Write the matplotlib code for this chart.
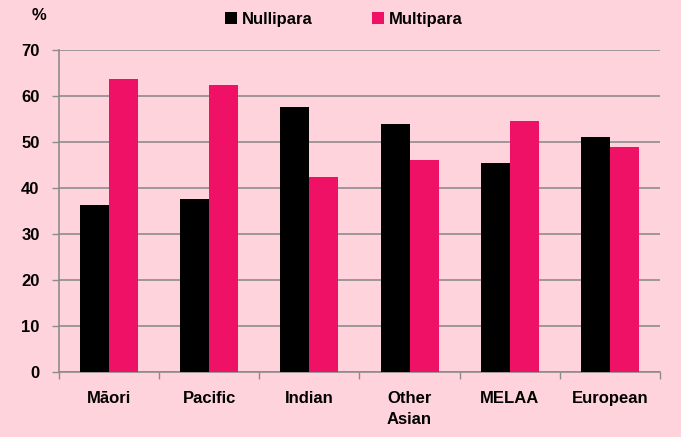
import matplotlib
matplotlib.use("Agg")
import matplotlib.pyplot as plt
import numpy as np

plt.rcParams['font.family'] = ['Liberation Sans', 'DejaVu Sans']
plt.rcParams['font.weight'] = 'bold'

groups = ['Māori', 'Pacific', 'Indian', 'Other\nAsian', 'MELAA', 'European']
nullipara = [36.2, 37.7, 57.7, 53.9, 45.4, 51.1]
multipara = [63.8, 62.3, 42.3, 46.1, 54.6, 48.9]

bg = '#FFD3DB'
pink = '#EE1166'
grid = '#8C8C8C'
fs = 12

fig = plt.figure(figsize=(6.81, 4.37), dpi=100, facecolor=bg)
ax = fig.add_axes([0.0866, 0.1487, 0.8825, 0.7369], facecolor=bg)

x = np.arange(len(groups))
w = 0.29
ax.bar(x - w/2, nullipara, w, color='black', label='Nullipara', zorder=3)
ax.bar(x + w/2, multipara, w, color=pink, label='Multipara', zorder=3)

ax.set_xlim(-0.5, len(groups) - 0.5)
ax.set_ylim(0, 70)
ax.set_yticks(range(0, 71, 10))
ax.yaxis.grid(True, color=grid, linewidth=1.2, zorder=0)
ax.set_axisbelow(True)

ax.set_xticks(x)
ax.set_xticklabels(groups, fontsize=fs, fontweight='bold', linespacing=1.5)
ax.set_xticks(np.arange(-0.5, len(groups), 1), minor=True)
ax.tick_params(axis='x', which='major', length=0, pad=14)
ax.tick_params(axis='x', which='minor', length=5, color=grid, width=1)
ax.tick_params(axis='y', length=5, color=grid, width=1, labelsize=fs, pad=9)
for lab in ax.get_yticklabels():
    lab.set_fontweight('bold')

for s in ['top', 'right']:
    ax.spines[s].set_visible(False)
for s in ['left', 'bottom']:
    ax.spines[s].set_color(grid)
    ax.spines[s].set_linewidth(1.2)

fig.text(0.058, 0.965, '%', fontsize=fs, fontweight='bold', ha='center', va='center')

ax.legend(loc='center', bbox_to_anchor=(0.474, 1.095), ncol=2, frameon=False,
          handlelength=0.7, handleheight=0.7, handletextpad=0.3,
          columnspacing=3.6, prop={'weight': 'bold', 'size': fs})

fig.savefig('out.png', dpi=100, facecolor=bg)
